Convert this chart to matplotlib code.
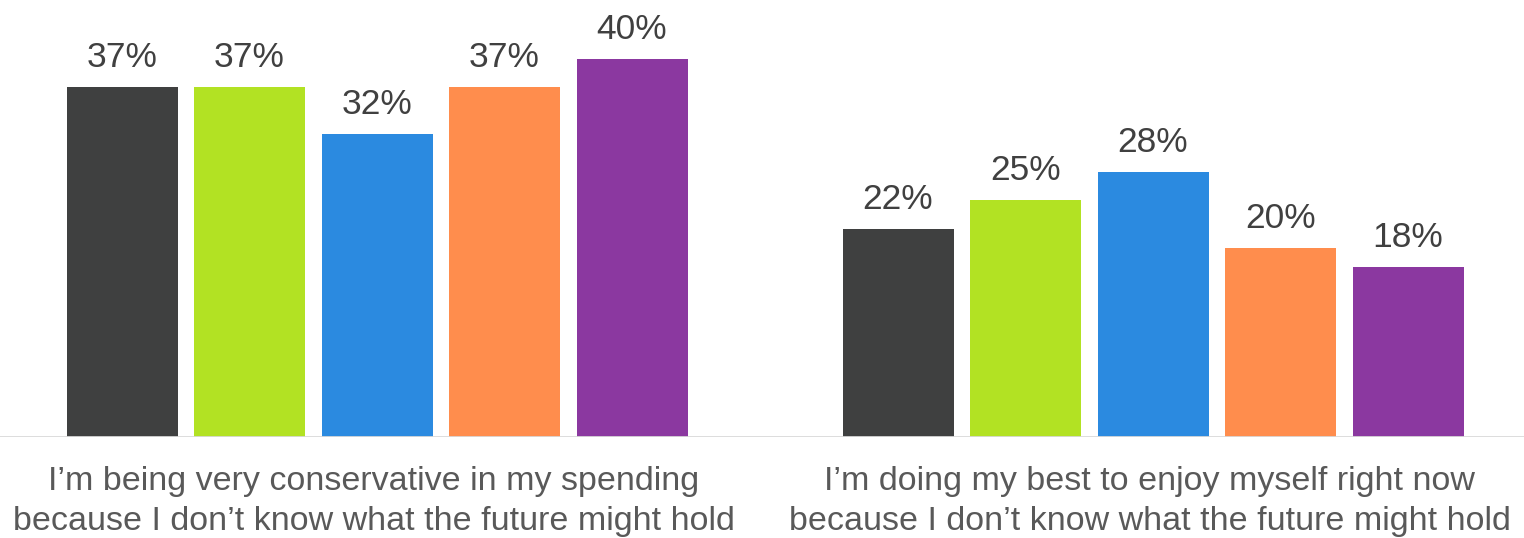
import matplotlib.pyplot as plt
import numpy as np

plt.rcParams['font.family'] = ['Liberation Sans', 'DejaVu Sans']

categories = ["I\u2019m being very conservative in my spending\nbecause I don\u2019t know what the future might hold",
              "I\u2019m doing my best to enjoy myself right now\nbecause I don\u2019t know what the future might hold"]
series_values = [
    [37, 22],
    [37, 25],
    [32, 28],
    [37, 20],
    [40, 18],
]
colors = ["#3f4040", "#b2e223", "#2b8ae0", "#ff8d4d", "#8b38a0"]

W, H = 1524, 538
fig = plt.figure(figsize=(W / 100, H / 100), dpi=100)
base_px = 437
ax = fig.add_axes([0, (H - base_px) / H, 1, base_px / H])

pitch = 127.5 / 776
width = 111 / 776
x = np.arange(len(categories))
for i, vals in enumerate(series_values):
    xs = x + (i - 2) * pitch
    ax.bar(xs, vals, width=width, color=colors[i], zorder=2)
    for xi, v in zip(xs, vals):
        ax.annotate(f"{v}%", (xi, v), xytext=(0, 14.4), textcoords="offset points",
                    ha="center", va="baseline", fontsize=25.5, color="#404040")

ax.set_xlim(-377 / 776, (W - 377) / 776)
ax.set_ylim(0, base_px / 9.46)
ax.axis("off")
ax.axhline(0, color="#d9d9d9", lw=2, zorder=3)

# two text lines per category, placed one by one
for xi, lab in zip(x, categories):
    for k, line in enumerate(lab.split("\n")):
        ax.annotate(line, (xi - 0.004, 0), xytext=(0, -38.2 - 28.8 * k), textcoords="offset points",
                    ha="center", va="baseline", fontsize=24.5, color="#595959")

fig.savefig("out.png", dpi=100)
